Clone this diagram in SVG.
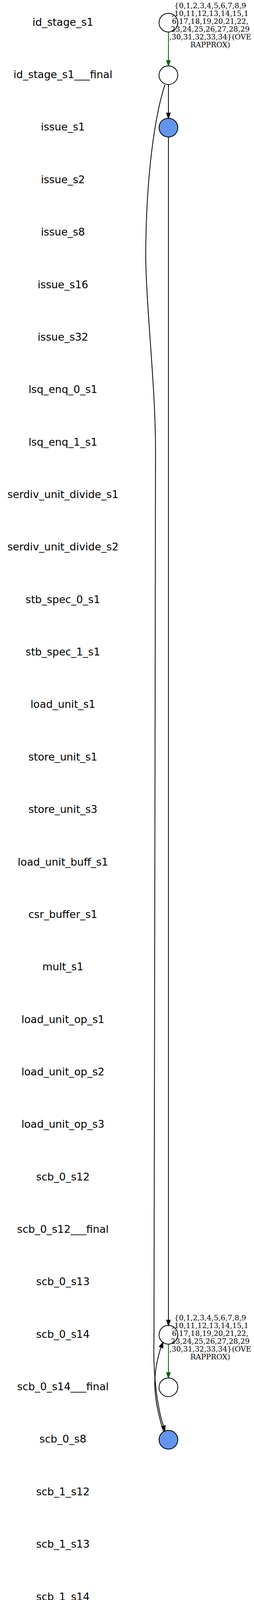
<svg xmlns="http://www.w3.org/2000/svg" width="650" height="5730" viewBox="0 0 650 5730">
<style>
  .lbl { font-family: "DejaVu Sans", "Noto Sans", sans-serif; font-size: 26.67px; fill: #000; text-anchor: middle; }
  .elbl { font-family: "DejaVu Serif", "Liberation Serif", serif; font-size: 18.67px; fill: #000; text-anchor: middle; }
  .st { fill: #ffffff; stroke: #000; stroke-width: 2; }
  .hl { fill: #6495ed; stroke: #000; stroke-width: 2; }
  .e { fill: none; stroke: #000; stroke-width: 2; }
  .eg { fill: none; stroke: #006400; stroke-width: 2; }
  .ah { fill: #000; stroke: #000; stroke-width: 2; }
  .ahg { fill: #006400; stroke: #006400; stroke-width: 2; }
</style>
<rect x="0" y="0" width="650" height="5730" fill="#ffffff"/>
<g id="labels">
  <g id="lbl_id_stage_s1"><text class="lbl" x="161" y="65.7">id_stage_s1</text></g>
  <g id="lbl_id_stage_s1___final"><text class="lbl" x="161" y="200.1">id_stage_s1___final</text></g>
  <g id="lbl_issue_s1"><text class="lbl" x="161" y="334.4">issue_s1</text></g>
  <g id="lbl_issue_s2"><text class="lbl" x="161" y="468.8">issue_s2</text></g>
  <g id="lbl_issue_s8"><text class="lbl" x="161" y="603.1">issue_s8</text></g>
  <g id="lbl_issue_s16"><text class="lbl" x="161" y="737.5">issue_s16</text></g>
  <g id="lbl_issue_s32"><text class="lbl" x="161" y="871.9">issue_s32</text></g>
  <g id="lbl_lsq_enq_0_s1"><text class="lbl" x="161" y="1006.2">lsq_enq_0_s1</text></g>
  <g id="lbl_lsq_enq_1_s1"><text class="lbl" x="161" y="1140.6">lsq_enq_1_s1</text></g>
  <g id="lbl_serdiv_unit_divide_s1"><text class="lbl" x="161" y="1274.9">serdiv_unit_divide_s1</text></g>
  <g id="lbl_serdiv_unit_divide_s2"><text class="lbl" x="161" y="1409.3">serdiv_unit_divide_s2</text></g>
  <g id="lbl_stb_spec_0_s1"><text class="lbl" x="161" y="1543.7">stb_spec_0_s1</text></g>
  <g id="lbl_stb_spec_1_s1"><text class="lbl" x="161" y="1678.0">stb_spec_1_s1</text></g>
  <g id="lbl_load_unit_s1"><text class="lbl" x="161" y="1812.4">load_unit_s1</text></g>
  <g id="lbl_store_unit_s1"><text class="lbl" x="161" y="1946.7">store_unit_s1</text></g>
  <g id="lbl_store_unit_s3"><text class="lbl" x="161" y="2081.1">store_unit_s3</text></g>
  <g id="lbl_load_unit_buff_s1"><text class="lbl" x="161" y="2215.5">load_unit_buff_s1</text></g>
  <g id="lbl_csr_buffer_s1"><text class="lbl" x="161" y="2349.8">csr_buffer_s1</text></g>
  <g id="lbl_mult_s1"><text class="lbl" x="161" y="2484.2">mult_s1</text></g>
  <g id="lbl_load_unit_op_s1"><text class="lbl" x="161" y="2618.5">load_unit_op_s1</text></g>
  <g id="lbl_load_unit_op_s2"><text class="lbl" x="161" y="2752.9">load_unit_op_s2</text></g>
  <g id="lbl_load_unit_op_s3"><text class="lbl" x="161" y="2887.3">load_unit_op_s3</text></g>
  <g id="lbl_scb_0_s12"><text class="lbl" x="161" y="3021.6">scb_0_s12</text></g>
  <g id="lbl_scb_0_s12___final"><text class="lbl" x="161" y="3156.0">scb_0_s12___final</text></g>
  <g id="lbl_scb_0_s13"><text class="lbl" x="161" y="3290.3">scb_0_s13</text></g>
  <g id="lbl_scb_0_s14"><text class="lbl" x="161" y="3424.7">scb_0_s14</text></g>
  <g id="lbl_scb_0_s14___final"><text class="lbl" x="161" y="3559.1">scb_0_s14___final</text></g>
  <g id="lbl_scb_0_s8"><text class="lbl" x="161" y="3693.4">scb_0_s8</text></g>
  <g id="lbl_scb_1_s12"><text class="lbl" x="161" y="3827.8">scb_1_s12</text></g>
  <g id="lbl_scb_1_s13"><text class="lbl" x="161" y="3962.1">scb_1_s13</text></g>
  <g id="lbl_scb_1_s14"><text class="lbl" x="161" y="4096.5">scb_1_s14</text></g>
  <g id="lbl_scb_1_s8"><text class="lbl" x="161" y="4230.9">scb_1_s8</text></g>
  <g id="lbl_scb_2_s12"><text class="lbl" x="161" y="4365.2">scb_2_s12</text></g>
  <g id="lbl_scb_2_s13"><text class="lbl" x="161" y="4499.6">scb_2_s13</text></g>
  <g id="lbl_scb_2_s14"><text class="lbl" x="161" y="4633.9">scb_2_s14</text></g>
  <g id="lbl_scb_2_s8"><text class="lbl" x="161" y="4768.3">scb_2_s8</text></g>
  <g id="lbl_scb_3_s12"><text class="lbl" x="161" y="4902.7">scb_3_s12</text></g>
  <g id="lbl_scb_3_s13"><text class="lbl" x="161" y="5037.0">scb_3_s13</text></g>
  <g id="lbl_scb_3_s14"><text class="lbl" x="161" y="5171.4">scb_3_s14</text></g>
  <g id="lbl_scb_3_s8"><text class="lbl" x="161" y="5305.7">scb_3_s8</text></g>
  <g id="lbl_stb_com_0_s1"><text class="lbl" x="161" y="5440.1">stb_com_0_s1</text></g>
  <g id="lbl_stb_com_1_s1"><text class="lbl" x="161" y="5574.5">stb_com_1_s1</text></g>
  <g id="lbl_mem_req_s1"><text class="lbl" x="161" y="5708.8">mem_req_s1</text></g>
</g>
<g id="nodes">
  <g id="n_id_stage_s1"><circle class="st" cx="431" cy="58" r="24"/></g>
  <g id="n_id_stage_s1___final"><circle class="st" cx="431" cy="192.4" r="24"/></g>
  <g id="n_issue_s1"><circle class="hl" cx="431" cy="326.7" r="24"/></g>
  <g id="n_scb_0_s14"><circle class="st" cx="431" cy="3417" r="24"/></g>
  <g id="n_scb_0_s14___final"><circle class="st" cx="431" cy="3551.4" r="24"/></g>
  <g id="n_scb_0_s8"><circle class="hl" cx="431" cy="3685.7" r="24"/></g>
</g>
<g id="connectors">
  <g id="e_id_stage_s1_to_final">
    <line class="eg" x1="431" y1="82" x2="431" y2="155"/>
    <polygon class="ahg" points="426.3,155 435.7,155 431,168.4"/>
    <text class="elbl" x="538" y="20.7">{0,1,2,3,4,5,6,7,8,9</text>
    <text class="elbl" x="538" y="40.7">,10,11,12,13,14,15,1</text>
    <text class="elbl" x="538" y="60.7">6,17,18,19,20,21,22,</text>
    <text class="elbl" x="538" y="80.7">23,24,25,26,27,28,29</text>
    <text class="elbl" x="538" y="100.7">,30,31,32,33,34}(OVE</text>
    <text class="elbl" x="538" y="120.7">RAPPROX)</text>
  </g>
  <g id="e_final_to_issue_s1">
    <line class="e" x1="431" y1="216.4" x2="431" y2="289.4"/>
    <polygon class="ah" points="426.3,289.4 435.7,289.4 431,302.7"/>
  </g>
  <g id="e_issue_s1_to_scb_0_s14">
    <line class="e" x1="431" y1="350.7" x2="431" y2="3379.7"/>
    <polygon class="ah" points="426.3,3379.7 435.7,3379.7 431,3393"/>
  </g>
  <g id="e_scb_0_s14_to_final">
    <line class="eg" x1="431" y1="3441" x2="431" y2="3514"/>
    <polygon class="ahg" points="426.3,3514 435.7,3514 431,3527.4"/>
    <text class="elbl" x="538" y="3379.7">{0,1,2,3,4,5,6,7,8,9</text>
    <text class="elbl" x="538" y="3399.7">,10,11,12,13,14,15,1</text>
    <text class="elbl" x="538" y="3419.7">6,17,18,19,20,21,22,</text>
    <text class="elbl" x="538" y="3439.7">23,24,25,26,27,28,29</text>
    <text class="elbl" x="538" y="3459.7">,30,31,32,33,34}(OVE</text>
    <text class="elbl" x="538" y="3479.7">RAPPROX)</text>
  </g>
  <g id="e_id_stage_s1_final_to_scb_0_s8">
    <path class="e" d="M422,217 C395,300 375,450 373,636 C371,760 398,980 398,1153 C398,1700 394,3000 394,3430 C391,3530 405,3610 418.2,3650.8"/>
    <polygon class="ah" points="422.7,3649.4 413.7,3652.1 422,3663.5"/>
  </g>
  <g id="e_scb_0_s8_to_scb_0_s14">
    <path class="e" d="M418.5,3665.5 C407,3628 396,3585 396,3540 C396,3505 406.8,3462.9 412.2,3448.9"/>
    <polygon class="ah" points="416.6,3450.6 407.8,3447.2 417,3436.5"/>
  </g>
</g>
</svg>
